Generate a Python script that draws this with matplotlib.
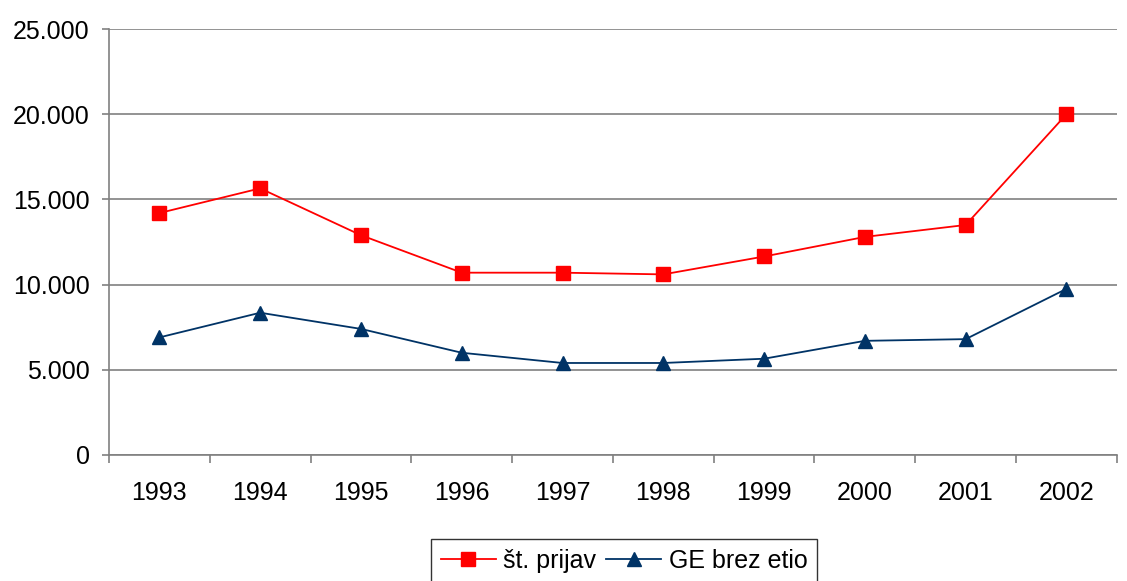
import matplotlib

matplotlib.use("Agg")
import matplotlib.pyplot as plt
import numpy as np
from matplotlib.ticker import FuncFormatter

years = ["1993", "1994", "1995", "1996", "1997", "1998", "1999", "2000", "2001", "2002"]
prijave = [14200, 15650, 12900, 10700, 10700, 10600, 11650, 12800, 13500, 20000]
ge_brez_etio = [6900, 8350, 7400, 6000, 5400, 5400, 5650, 6700, 6800, 9750]

plt.rcParams["font.family"] = ["Liberation Sans", "DejaVu Sans"]

fig = plt.figure(figsize=(11.27, 5.81), dpi=100)
ax = fig.add_axes([0.0967, 0.2169, 0.8943, 0.7331])

x = np.arange(len(years))
ax.plot(x, prijave, color="#ff0000", linewidth=1.3, marker="s", markersize=9.5,
        label="št. prijav")
ax.plot(x, ge_brez_etio, color="#003366", linewidth=1.3, marker="^", markersize=10,
        label="GE brez etio")

ax.set_xlim(-0.5, len(years) - 0.5)
ax.set_ylim(0, 25000)
ax.set_yticks(np.arange(0, 25001, 5000))
ax.yaxis.set_major_formatter(FuncFormatter(lambda v, p: f"{int(v):,}".replace(",", ".")))

# category ticks sit between years, labels in the middle
ax.set_xticks(np.arange(-0.5, len(years), 1.0))
ax.set_xticklabels([])
ax.set_xticks(x, minor=True)
ax.set_xticklabels(years, minor=True)
ax.tick_params(axis="x", which="minor", length=0, pad=19, labelsize=18)
ax.tick_params(axis="x", which="major", length=5.5, width=1.2, color="#808080")
ax.tick_params(axis="y", length=5, width=1.2, color="#808080", labelsize=18, pad=9)

ax.grid(axis="y", color="#808080", linewidth=1.2)
ax.set_axisbelow(True)
for side in ["top", "right"]:
    ax.spines[side].set_visible(False)
for side in ["left", "bottom"]:
    ax.spines[side].set_color("#808080")
    ax.spines[side].set_linewidth(1.2)

leg = fig.legend(loc="upper center", bbox_to_anchor=(0.5537, 0.0723), ncol=2, fontsize=18,
                 frameon=True, fancybox=False, edgecolor="#000000", handlelength=2.2,
                 handletextpad=0.3, columnspacing=0.4, borderpad=0.4, borderaxespad=0)
leg.get_frame().set_linewidth(1.0)

plt.savefig("out.png", dpi=100)
